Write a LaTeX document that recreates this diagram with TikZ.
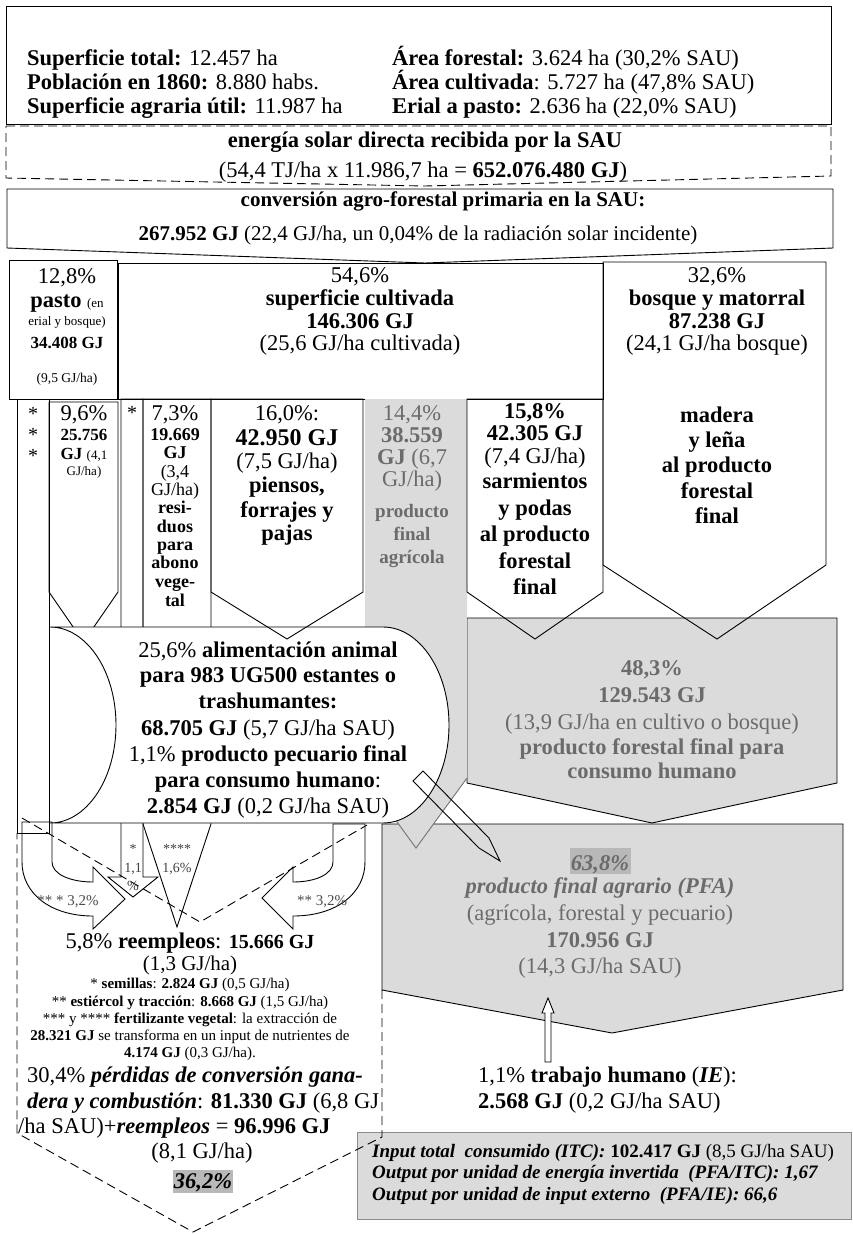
\documentclass[tikz,border=0pt]{standalone}
\usepackage{fontspec}
\setmainfont{Liberation Serif}
\newcommand\FS[1]{\fontsize{#1}{#1}\selectfont}
\definecolor{gfill}{gray}{0.86}
\definecolor{gtext}{gray}{0.42}
\definecolor{hl}{gray}{0.72}
\definecolor{gline}{gray}{0.45}
\begin{document}
\begin{tikzpicture}[x=1pt,y=-1pt,
  bx/.style={draw=black,line width=0.9pt,line join=miter},
  dsh/.style={dash pattern=on 9pt off 5pt},
  tc/.style={inner sep=0pt,anchor=base,font=\FS{22.5}},
  tl/.style={inner sep=0pt,anchor=base west,font=\FS{22.5}},
  gt/.style={text=gtext}]
\useasboundingbox (0,0) rectangle (853,1234);
% ---------- top boxes
\draw[bx] (6,6) rectangle (831,124);
\draw[bx,dsh] (6,126) -- (831,126) -- (831,176) -- (425,186) -- (6,178) -- cycle;
\draw[bx] (7,189) -- (833,189) -- (833,248) -- (425,263) -- (7,248) -- cycle;
% ---------- first row
\draw[bx] (9,260) rectangle (117,399);
\draw[bx] (118,263) rectangle (603,399);
% ---------- gray boxes
\draw[bx,fill=gfill] (467,618) -- (837,618) -- (837,783) -- (652,823) -- (467,783) -- cycle;
\draw[bx,fill=gfill] (382,824) -- (843,824) -- (843,990) -- (612,1033) -- (382,990) -- cycle;
\fill[gfill] (365,399) -- (467,399) -- (467,778) -- (416,848) -- (365,778) -- cycle;
\draw[gline,line width=0.9pt] (365,778) -- (416,848) -- (467,778);
% ---------- arrows behind the animal shape
\draw[bx] (603,262) -- (826,262) -- (826,565) -- (717,639) -- (603,565) -- cycle;
\draw[bx] (467,399) -- (603,399) -- (603,592) -- (535,639) -- (467,592) -- cycle;
\draw[bx] (17,399) rectangle (49,833);
\draw[bx] (49,402) -- (118,402) -- (118,592) -- (83.5,642) -- (49,592) -- cycle;
\draw[bx] (121,399) -- (143,399) -- (143,877) -- (158,877) -- (133,897) -- (108,877) -- (121,877) -- cycle;
\draw[bx] (143,399) -- (211,399) -- (211,824) -- (177,927) -- (143,824) -- cycle;
% ---------- animal shape
\fill[white] (50,627) rectangle (383,823);
\draw[bx,fill=white] (50,627) -- (383,627) .. controls (419.4,627) and (449,670.9) .. (449,725) .. controls (449,779.1) and (419.4,823) .. (383,823) -- (50,823) .. controls (86.4,823) and (116,779.1) .. (116,725) .. controls (116,670.9) and (86.4,627) .. (50,627) -- cycle;
\draw[bx] (211,399) -- (363,399) -- (363,592) -- (287,639) -- (211,592) -- cycle;
% ---------- U arrows
\draw[bx] (22,822) -- (52,822) -- (52,862) .. controls (52,874) and (70,882) .. (93,882) -- (93,867) -- (125,899) -- (93,929) -- (93,916) .. controls (50,916) and (22,893) .. (22,862) -- cycle;
\draw[bx] (333,824) -- (365,824) -- (365,862) .. controls (365,893) and (337,916) .. (293,916) -- (293,929) -- (262,898) -- (293,867) -- (293,882) .. controls (316,882) and (333,874) .. (333,862) -- cycle;
% ---------- input box and labour arrow
\draw[draw=black!45,line width=0.9pt,fill=gfill] (357,1132) rectangle (851,1219);
\draw[bx,fill=white] (545,1062) -- (545,1013) -- (542,1013) -- (548,998) -- (554,1013) -- (551,1013) -- (551,1062) -- cycle;
% ---------- dashed chevron
\draw[bx,dsh] (22,818) -- (200,922) -- (367,825);
\draw[bx,dsh] (382,990) -- (382,1137) -- (193,1232) -- (17,1133) -- (17,833);
% ---------- pencil arrow
\draw[bx] (423,771) -- (489,838) -- (500,861) -- (479,848) -- (413,781) -- cycle;
% ---------- highlights
\fill[hl] (570,848) rectangle (631,874);
\fill[hl] (173,1170) rectangle (233,1193);
% ---------- header texts
\node[tl] (h1) at (27,65) {\textbf{Superficie total:} 12.457 ha};
\node[tl] (h2) at (27,89) {\textbf{Población en 1860:} 8.880 habs.};
\node[tl] (h3) at (27,113) {\textbf{Superficie agraria útil:} 11.987 ha};
\node[tl] (h4) at (392,65) {\textbf{Área forestal:} 3.624 ha (30,2\% SAU)};
\node[tl] (h5) at (392,89) {\textbf{Área cultivada}: 5.727 ha (47,8\% SAU)};
\node[tl] (h6) at (392,113) {\textbf{Erial a pasto:} 2.636 ha (22,0\% SAU)};
\node[tc] (s1) at (425,147) {\textbf{energía solar directa recibida por la SAU}};
\node[tc] (s2) at (423,177) {(54,4 TJ/ha x 11.986,7 ha = \textbf{652.076.480 GJ})};
\node[tc,font=\FS{21}] (c1) at (443,206) {\textbf{conversión agro-forestal primaria en la SAU:}};
\node[tc,font=\FS{21}] (c2) at (418,240) {\textbf{267.952 GJ} (22,4 GJ/ha, un 0,04\% de la radiación solar incidente)};
% ---------- first row texts
\node[tc] (p1) at (67,283) {12,8\%};
\node[tc] (p2) at (67,307) {\textbf{pasto} {\FS{13}(en}};
\node[tc,font=\FS{13}] (p3) at (67,325) {erial y bosque)};
\node[tc,font=\FS{17}] (p4) at (67,348) {\textbf{34.408 GJ}};
\node[tc,font=\FS{13.5}] (p5) at (67,382) {(9,5 GJ/ha)};
\node[tc] (u1) at (360,282) {54,6\%};
\node[tc] (u2) at (360,305) {\textbf{superficie cultivada}};
\node[tc] (u3) at (360,328) {\textbf{146.306 GJ}};
\node[tc] (u4) at (360,350) {(25,6 GJ/ha cultivada)};
\node[tc] (b1) at (717,282) {32,6\%};
\node[tc] (b2) at (717,305) {\textbf{bosque y matorral}};
\node[tc] (b3) at (717,328) {\textbf{87.238 GJ}};
\node[tc] (b4) at (717,350) {(24,1 GJ/ha bosque)};
\node[tc] (b5) at (717,422) {\textbf{madera}};
\node[tc] (b6) at (717,447) {\textbf{y leña}};
\node[tc] (b7) at (717,472) {\textbf{al producto}};
\node[tc] (b8) at (717,498) {\textbf{forestal}};
\node[tc] (b9) at (717,523) {\textbf{final}};
% ---------- second row texts
\node[tc,font=\FS{20}] (a1) at (33,420) {*};
\node[tc,font=\FS{20}] (a2) at (33,441) {*};
\node[tc,font=\FS{20}] (a3) at (33,462) {*};
\node[tc] (n1) at (84,420) {9,6\%};
\node[tc,font=\FS{17}] (n2) at (84,440) {\textbf{25.756}};
\node[tc,font=\FS{17}] (n3) at (84,459) {\textbf{GJ} {\FS{13}(4,1}};
\node[tc,font=\FS{13}] (n4) at (84,475) {GJ/ha)};
\node[tc,font=\FS{20}] (st1) at (132,419) {*};
\node[tc] (r1) at (175,420) {7,3\%};
\node[tc,font=\FS{18}] (r2) at (175,440) {\textbf{19.669}};
\node[tc,font=\FS{18}] (r3) at (175,458) {\textbf{GJ}};
\node[tc,font=\FS{18}] (r4) at (175,477) {(3,4};
\node[tc,font=\FS{18}] (r5) at (175,495) {GJ/ha)};
\node[tc,font=\FS{18}] (r6) at (175,513) {\textbf{resi-}};
\node[tc,font=\FS{18}] (r7) at (175,532) {\textbf{duos}};
\node[tc,font=\FS{18}] (r8) at (175,550) {\textbf{para}};
\node[tc,font=\FS{18}] (r9) at (175,568) {\textbf{abono}};
\node[tc,font=\FS{18}] (r10) at (175,587) {\textbf{vege-}};
\node[tc,font=\FS{18}] (r11) at (175,606) {\textbf{tal}};
\node[tc] (f1) at (287,420) {16,0\%:};
\node[tc,font=\FS{24}] (f2) at (287,445) {\textbf{42.950 GJ}};
\node[tc] (f3) at (287,468) {(7,5 GJ/ha)};
\node[tc] (f4) at (287,492) {\textbf{piensos,}};
\node[tc] (f5) at (287,517) {\textbf{forrajes y}};
\node[tc] (f6) at (287,540) {\textbf{pajas}};
\node[tc,gt] (g1) at (412,420) {14,4\%};
\node[tc,gt] (g2) at (412,442) {\textbf{38.559}};
\node[tc,gt] (g3) at (412,464) {\textbf{GJ} (6,7};
\node[tc,gt] (g4) at (412,486) {GJ/ha)};
\node[tc,gt,font=\FS{19}] (g5) at (412,517) {\textbf{producto}};
\node[tc,gt,font=\FS{19}] (g6) at (412,540) {\textbf{final}};
\node[tc,gt,font=\FS{19}] (g7) at (412,563) {\textbf{agrícola}};
\node[tc] (m1) at (535,418) {\textbf{15,8\%}};
\node[tc] (m2) at (535,440) {\textbf{42.305 GJ}};
\node[tc] (m3) at (535,463) {(7,4 GJ/ha)};
\node[tc] (m4) at (535,488) {\textbf{sarmientos}};
\node[tc] (m5) at (535,515) {\textbf{y podas}};
\node[tc] (m6) at (535,541) {\textbf{al producto}};
\node[tc] (m7) at (535,568) {\textbf{forestal}};
\node[tc] (m8) at (535,594) {\textbf{final}};
% ---------- animal texts
\node[tc] (an1) at (268,657) {25,6\% \textbf{alimentación animal}};
\node[tc] (an2) at (268,682) {\textbf{para 983 UG500 estantes o}};
\node[tc] (an3) at (268,708) {\textbf{trashumantes:}};
\node[tc] (an4) at (268,735) {\textbf{68.705 GJ} (5,7 GJ/ha SAU)};
\node[tc] (an5) at (268,761) {1,1\% \textbf{producto pecuario final}};
\node[tc] (an6) at (268,787) {\textbf{para consumo humano}:};
\node[tc] (an7) at (268,813) {\textbf{2.854 GJ} (0,2 GJ/ha SAU)};
% ---------- gray box texts
\node[tc,gt] (q1) at (652,675) {\textbf{48,3\%}};
\node[tc,gt] (q2) at (652,702) {\textbf{129.543 GJ}};
\node[tc,gt] (q3) at (652,729) {(13,9 GJ/ha en cultivo o bosque)};
\node[tc,gt] (q4) at (652,754) {\textbf{producto forestal final para}};
\node[tc,gt] (q5) at (652,778) {\textbf{consumo humano}};
\node[tc,gt] (pf1) at (600,870) {\textbf{\textit{63,8\%}}};
\node[tc,gt] (pf2) at (600,893) {\textbf{\textit{producto final agrario (PFA)}}};
\node[tc,gt] (pf3) at (600,920) {(agrícola, forestal y pecuario)};
\node[tc,gt] (pf4) at (600,947) {\textbf{170.956 GJ}};
\node[tc,gt] (pf5) at (600,973) {(14,3 GJ/ha SAU)};
% ---------- lower left texts
\node[tc,font=\FS{14},text=black!75] (sa1) at (133,853) {*};
\node[tc,font=\FS{14},text=black!75] (sa2) at (133,872) {1,1};
\node[tc,font=\FS{14},text=black!75] (sa3) at (133,890) {\%};
\node[tc,font=\FS{14},text=black!75] (sb1) at (177,853) {****};
\node[tc,font=\FS{14},text=black!75] (sb2) at (177,872) {1,6\%};
\node[tc,font=\FS{15},text=black!70] (ul) at (68,905) {** * 3,2\%};
\node[tc,font=\FS{15},text=black!70] (ur) at (322,905) {** 3,2\%};
\node[tc] (re1) at (190,948) {5,8\% \textbf{reempleos}: {\FS{20}\textbf{15.666 GJ}}};
\node[tc,font=\FS{21}] (re2) at (190,970) {(1,3 GJ/ha)};
\node[tc,font=\FS{15}] (re3) at (190,988) {* \textbf{semillas}: \textbf{2.824 GJ} (0,5 GJ/ha)};
\node[tc,font=\FS{15}] (re4) at (190,1006) {** \textbf{estiércol y tracción}: \textbf{8.668 GJ} (1,5 GJ/ha)};
\node[tc,font=\FS{15}] (re5) at (190,1023) {*** y **** \textbf{fertilizante vegetal}: la extracción de};
\node[tc,font=\FS{15}] (re6) at (190,1040) {\textbf{28.321 GJ} se transforma en un input de nutrientes de};
\node[tc,font=\FS{15}] (re7) at (190,1057) {\textbf{4.174 GJ} (0,3 GJ/ha).};
\node[tl] (pe1) at (27,1082) {30,4\% \textbf{\textit{pérdidas de conversión gana-}}};
\node[tl] (pe2) at (27,1108) {\textbf{\textit{dera y combustión}}: \textbf{81.330 GJ} (6,8 GJ};
\node[tl] (pe3) at (18,1133) {/ha SAU)+\textbf{\textit{reempleos}} = \textbf{96.996 GJ}};
\node[tc] (pe4) at (202,1158) {(8,1 GJ/ha)};
\node[tc] (pe5) at (203,1188) {\textbf{\textit{36,2\%}}};
% ---------- lower right texts
\node[tl] (tr1) at (478,1082) {1,1\% \textbf{trabajo humano} (\textbf{\textit{IE}}):};
\node[tl] (tr2) at (478,1108) {\textbf{2.568 GJ} (0,2 GJ/ha SAU)};
\node[tl,font=\FS{19}] (in1) at (372,1157) {\textbf{\textit{Input total\ \ consumido (ITC):}} \textbf{102.417 GJ} (8,5 GJ/ha SAU)};
\node[tl,font=\FS{19}] (in2) at (372,1178) {\textbf{\textit{Output por unidad de energía invertida\ \ (PFA/ITC): 1,67}}};
\node[tl,font=\FS{19}] (in3) at (372,1200) {\textbf{\textit{Output por unidad de input externo\ \ (PFA/IE): 66,6}}};
\end{tikzpicture}
\end{document}
